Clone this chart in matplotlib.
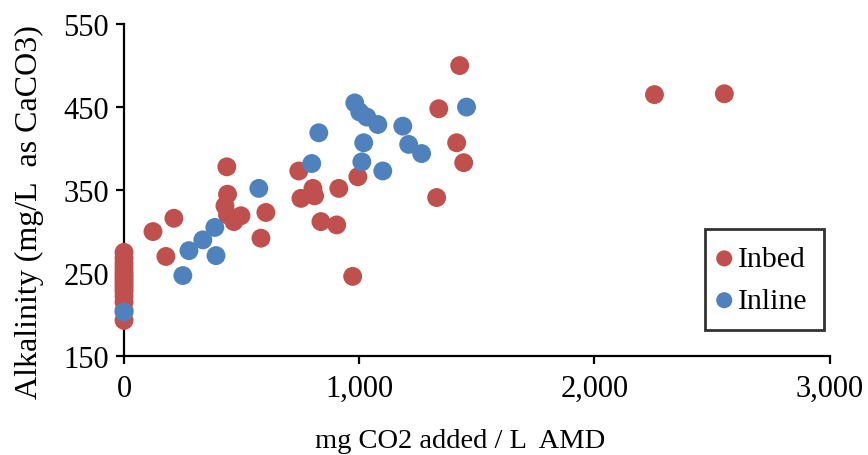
import matplotlib
matplotlib.use("Agg")
import matplotlib.pyplot as plt
from matplotlib.ticker import FuncFormatter, FixedLocator

# Data
inbed_x = [0, 0, 0, 0, 0, 0, 0, 0, 0, 0, 0, 0, 0, 0, 0,
           123, 178, 212, 437, 440, 429, 440, 467, 497, 582, 603,
           743, 752, 803, 810, 837, 904, 913, 972, 994,
           1329, 1338, 1414, 1427, 1444, 2255, 2552]
inbed_y = [275, 268, 262, 257, 252, 248, 244, 240, 236, 232, 228, 222, 215, 205, 193,
           300, 270, 316, 378, 345, 331, 320, 312, 319, 292, 323,
           373, 340, 352, 343, 312, 308, 352, 246, 366,
           341, 448, 407, 500, 383, 465, 466]

inline_x = [0, 250, 276, 335, 386, 391, 573, 798, 828, 981, 1002, 1032, 1079,
            1011, 1019, 1100, 1185, 1210, 1265, 1456]
inline_y = [203, 247, 277, 290, 305, 271, 352, 382, 419, 455, 444, 438, 429,
            384, 407, 373, 427, 405, 394, 450]

series_labels = ["Inbed", "Inline"]
x_ticks = [0, 1000, 2000, 3000]
y_ticks = [150, 250, 350, 450, 550]
x_label = "mg CO2 added / L  AMD"
y_label = "Alkalinity (mg/L  as CaCO3)"

plt.rcParams['font.family'] = ['Liberation Serif', 'DejaVu Serif']

fig = plt.figure(figsize=(8.68, 4.56), dpi=100)
ax = fig.add_axes([0.1429, 0.217, 0.813, 0.728])

ax.scatter(inbed_x, inbed_y, s=185, color="#C0504D", label=series_labels[0],
           edgecolors="none", zorder=3, clip_on=False)
ax.scatter(inline_x, inline_y, s=185, color="#4F81BD", label=series_labels[1],
           edgecolors="none", zorder=4, clip_on=False)

ax.set_xlim(0, 3000)
ax.set_ylim(150, 550)
ax.xaxis.set_major_locator(FixedLocator(x_ticks))
ax.yaxis.set_major_locator(FixedLocator(y_ticks))
ax.xaxis.set_major_formatter(FuncFormatter(lambda v, p: f"{int(v):,}"))

for side in ["top", "right"]:
    ax.spines[side].set_visible(False)
for side in ["left", "bottom"]:
    ax.spines[side].set_linewidth(1.6)

ax.tick_params(axis="both", direction="out", length=6, width=1.6,
               labelsize=22, colors="black")
ax.tick_params(axis="x", pad=7)
ax.tick_params(axis="y", pad=5)

ax.set_xlabel(x_label, fontsize=20.5, labelpad=18)
ax.xaxis.label.set_x(0.476)
ax.set_ylabel(y_label, fontsize=23, labelpad=14)
ax.yaxis.label.set_y(0.437)

leg = ax.legend(loc="upper left", bbox_to_anchor=(0.823, 0.383), fontsize=21.5,
                frameon=True, fancybox=False, edgecolor="black",
                handletextpad=0.35, borderpad=0.55, labelspacing=0.5,
                borderaxespad=0.0, handlelength=0.2, markerscale=0.85)
leg.get_frame().set_linewidth(2)

fig.savefig("out.png", dpi=100)
